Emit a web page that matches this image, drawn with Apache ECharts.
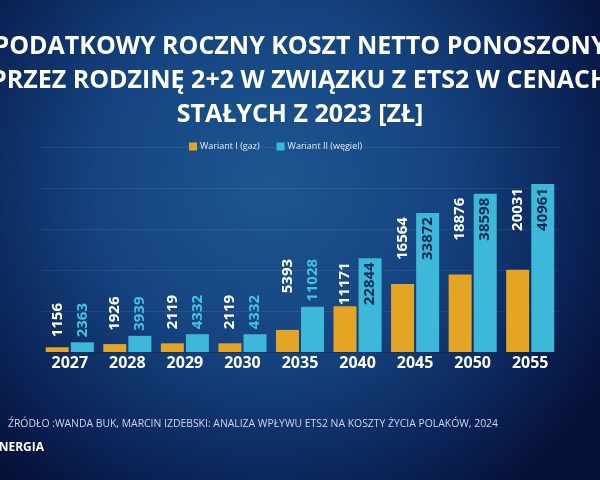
<html>
<head>
<meta charset="utf-8">
<script src="https://cdn.jsdelivr.net/npm/echarts@6/dist/echarts.min.js"></script>
<style>
  html, body { margin: 0; padding: 0; background: #0c2556; }
  #main { width: 600px; height: 480px; }
</style>
</head>
<body>
<div id="main"></div>
<script type="text/javascript">
    // dane z wykresu
    var years = ['2027', '2028', '2029', '2030', '2035', '2040', '2045', '2050', '2055'];
    var gaz = [1156, 1926, 2119, 2119, 5393, 11171, 16564, 18876, 20031];
    var wegiel = [2363, 3939, 4332, 4332, 11028, 22844, 33872, 38598, 40961];
    var seriesNames = ['Wariant I (gaz)', 'Wariant II (węgiel)'];
    var insideFrom = 20000; // od tej wartosci etykieta w srodku slupka

    var labelFont = 'bold 15px "Open Sans"';
    var myChart = echarts.init(document.getElementById('main'));

    var option = {
        backgroundColor: {
            type: 'radial', x: 0.45, y: 0.38, r: 0.8,
            colorStops: [
                { offset: 0, color: '#1d5790' },
                { offset: 0.45, color: '#154480' },
                { offset: 0.8, color: '#0b2458' },
                { offset: 1, color: '#06123a' }
            ]
        },
        title: [{
            text: 'PODATKOWY ROCZNY KOSZT NETTO PONOSZONY\nPRZEZ RODZINĘ 2+2 W ZWIĄZKU Z ETS2 W CENACH\nSTAŁYCH Z 2023 [ZŁ]',
            left: 'center',
            top: 25,
            textStyle: {
                color: '#ffffff', fontFamily: 'Open Sans', fontWeight: 'bold',
                fontSize: 25, lineHeight: 34
            }
        }, {
            text: 'ŹRÓDŁO :WANDA BUK, MARCIN IZDEBSKI: ANALIZA WPŁYWU ETS2 NA KOSZTY ŻYCIA POLAKÓW, 2024',
            left: 8,
            top: 419,
            padding: 0,
            textStyle: { color: '#cdd6e4', fontFamily: 'Open Sans', fontWeight: 'normal', fontSize: 10.4 }
        }, {
            text: 'ENERGIA',
            left: -8,
            top: 442,
            padding: 0,
            textStyle: { color: '#ffffff', fontFamily: 'Open Sans', fontWeight: 'bold', fontSize: 12 }
        }],
        legend: {
            data: seriesNames,
            left: 184,
            top: 137,
            itemWidth: 8,
            itemHeight: 8,
            itemGap: 17,
            icon: 'rect',
            textStyle: { color: '#e2e8f2', fontFamily: 'Open Sans', fontSize: 9, padding: [0, 0, 0, -2] }
        },
        grid: { left: 41, right: 41, top: 147, bottom: 128 },
        xAxis: {
            type: 'category',
            data: years,
            axisTick: { show: false },
            axisLine: { lineStyle: { color: 'rgba(5,20,55,0.5)' } },
            axisLabel: {
                color: '#ffffff', fontFamily: 'Open Sans', fontWeight: 'bold',
                fontSize: 16, margin: 3
            }
        },
        yAxis: {
            type: 'value',
            min: 0,
            max: 50000,
            interval: 10000,
            axisLabel: { show: false },
            splitLine: { lineStyle: { color: 'rgba(255,255,255,0.07)' } }
        },
        series: [{
            name: seriesNames[0],
            type: 'bar',
            barWidth: 23,
            barGap: '9%',
            itemStyle: { color: '#e5a524' },
            data: gaz
        }, {
            name: seriesNames[1],
            type: 'bar',
            barWidth: 23,
            itemStyle: { color: '#3db8d9' },
            data: wegiel
        }]
    };

    myChart.setOption(option);

    // szerokosc tekstu etykiety
    var ctx = document.createElement('canvas').getContext('2d');
    ctx.font = labelFont;
    function textLen(v) { return ctx.measureText(String(v)).width; }

    function labelBase(color) {
        return {
            show: true, rotate: 90, color: color,
            fontFamily: 'Open Sans', fontWeight: 'bold', fontSize: 15,
            verticalAlign: 'middle'
        };
    }

    var gazData = [], wegielData = [];
    for (var i = 0; i < years.length; i++) {
        var blueTop = myChart.convertToPixel({ yAxisIndex: 0 }, wegiel[i]);
        var orangeTop = myChart.convertToPixel({ yAxisIndex: 0 }, gaz[i]);
        var target;
        var bl = labelBase('#42c2e8');
        if (wegiel[i] >= insideFrom) {
            bl.color = '#0f2a55';
            bl.position = 'insideTop';
            bl.distance = 4;
            bl.align = 'right';
            target = blueTop + 4;
        } else {
            bl.position = 'top';
            bl.distance = 5;
            bl.align = 'left';
            target = blueTop - 5 - textLen(wegiel[i]);
        }
        wegielData.push({ value: wegiel[i], label: bl });

        var ol = labelBase('#ffffff');
        ol.position = 'top';
        ol.align = 'right';
        ol.distance = orangeTop - target;
        gazData.push({ value: gaz[i], label: ol });
    }

    myChart.setOption({
        series: [{ data: gazData }, { data: wegielData }]
    });
</script>
</body>
</html>
